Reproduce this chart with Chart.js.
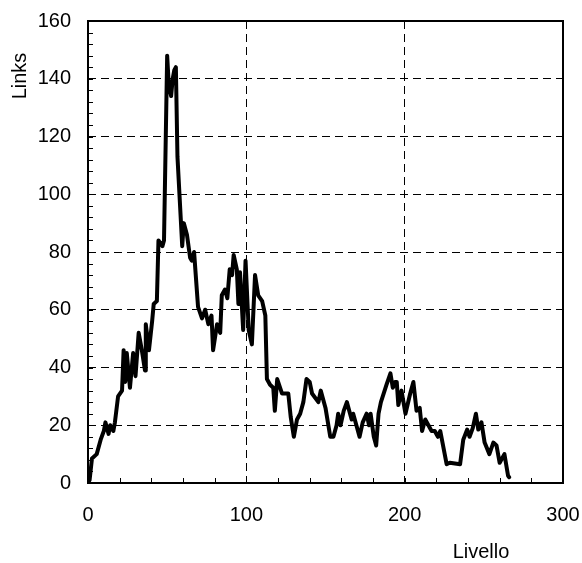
<!DOCTYPE html>
<html>
<head>
<meta charset="utf-8">
<script src="https://cdn.jsdelivr.net/npm/chart.js@4/dist/chart.umd.min.js"></script>
<style>
  html, body { margin: 0; padding: 0; background: #fff; }
  #wrap { width: 582px; height: 563px; }
</style>
</head>
<body>
<div id="wrap"><canvas id="chart" width="582" height="563"></canvas></div>
<script>
// level (x) and number of links (y)
var levels = [0, 1, 2.5, 5.5, 8, 10, 11, 13, 14, 16, 17, 19, 21.5, 22.5, 23.5, 24.5, 26.5, 28.5, 30, 32,
  34, 36, 36.5, 38.5, 40.5, 41.5, 43.5, 44.5, 47, 48, 50, 51, 52.5, 53.5, 54.5, 55.5, 56.5, 59.5, 60.5, 62.5,
  64.5, 65.5, 67, 69.5, 72, 74, 76, 78, 79, 81.5, 83.5, 84.5, 86.5, 88, 89.5, 91, 92, 94, 95, 96,
  98, 99.5, 101.5, 103.5, 105.5, 107.5, 110, 112, 113, 115, 117, 118, 119.5, 122.5, 126.5, 128, 130, 132, 134, 136,
  138, 140, 141.5, 145.5, 147, 150, 153, 155, 157, 158, 159.5, 161.5, 163.5, 166.5, 167.5, 169.5, 171.5, 173.5, 176, 177.5,
  178.5, 180.5, 182, 183.5, 185, 188.5, 191, 192.5, 194, 195, 196, 198, 200.5, 203.5, 205.5, 207.5, 209.5, 211, 213, 215,
  217, 219, 221, 222.5, 226.5, 228.5, 235, 237, 239.5, 241, 243, 245, 246.5, 248.5, 250.5, 253.5, 256, 258, 260, 263,
  265.3, 266];
var links = [0, 1, 8.5, 10, 15, 18, 21, 17, 20, 18, 21, 30, 32, 46, 35, 45, 33, 45, 37, 52,
  46, 39, 55, 46, 56, 62, 63, 84, 82, 84, 148, 138, 134, 140, 143, 144, 113, 82, 90, 86,
  78, 77, 80, 61, 57, 60, 55, 58, 46, 55, 52, 65, 67, 64, 74, 72, 79, 74, 62, 73,
  53, 77, 53, 48, 72, 65, 63, 58, 36, 34, 33, 25, 36, 31, 31, 23, 16, 22, 24, 28,
  36, 35, 31, 28, 32, 26, 16, 16, 20, 24, 20, 25, 28, 22, 24, 20, 16, 21, 24, 20,
  24, 16, 13, 24, 28, 34, 38, 33, 35, 35, 27, 32, 24, 31, 35, 25, 26, 18, 22, 20,
  18, 18, 16, 18, 6.5, 7, 6.5, 15, 18.5, 16, 19, 24, 18.5, 21, 14, 10, 14, 13, 7, 10,
  2.5, 2];

var xTicks = [0, 100, 200, 300];
var yTicks = [0, 20, 40, 60, 80, 100, 120, 140, 160];
var xTitle = 'Livello';
var yTitle = 'Links';

var points = levels.map(function (x, i) { return { x: x, y: links[i] }; });

// frame, inward minor ticks and the two axis titles
var framePlugin = {
    id: 'frame',
    afterDraw: function (chart) {
        var ctx = chart.ctx;
        var a = chart.chartArea;
        var xs = chart.scales.x, ys = chart.scales.y;
        ctx.save();
        ctx.strokeStyle = '#000';
        ctx.lineWidth = 1;
        ctx.beginPath();
        for (var v = 20; v < 300; v += 20) {
            var px = Math.round(xs.getPixelForValue(v)) + 0.5;
            ctx.moveTo(px, a.bottom);
            ctx.lineTo(px, a.bottom - 5);
        }
        for (var w = 4; w < 160; w += 4) {
            var py = Math.round(ys.getPixelForValue(w)) + 0.5;
            ctx.moveTo(a.left, py);
            ctx.lineTo(a.left + 5, py);
        }
        ctx.stroke();
        ctx.lineWidth = 2;
        ctx.strokeRect(a.left, a.top, a.right - a.left, a.bottom - a.top);

        ctx.fillStyle = '#000';
        ctx.font = '20px "Liberation Sans", Arial, sans-serif';
        ctx.textAlign = 'center';
        ctx.textBaseline = 'middle';
        ctx.fillText(xTitle, 481, 552);
        ctx.translate(20, 76);
        ctx.rotate(-Math.PI / 2);
        ctx.fillText(yTitle, 0, 0);
        ctx.restore();
    }
};

var gridColor = function (c) {
    var v = c.tick ? c.tick.value : null;
    if (c.scale.axis === 'x') return (v === 0 || v === 300) ? 'rgba(0,0,0,0)' : '#000';
    return (v === 0 || v === 160) ? 'rgba(0,0,0,0)' : '#000';
};

var chart = new Chart(document.getElementById('chart'), {
    type: 'line',
    data: {
        datasets: [{
            label: yTitle,
            data: points,
            borderColor: '#000',
            borderWidth: 4,
            borderJoinStyle: 'round',
            borderCapStyle: 'round',
            pointRadius: 0,
            fill: false,
            tension: 0
        }]
    },
    options: {
        responsive: false,
        animation: false,
        events: [],
        layout: { padding: { left: 0, right: 19, top: 21, bottom: 0 } },
        plugins: {
            legend: { display: false },
            tooltip: { enabled: false }
        },
        scales: {
            x: {
                type: 'linear',
                min: 0,
                max: 300,
                afterBuildTicks: function (s) { s.ticks = xTicks.map(function (v) { return { value: v }; }); },
                afterFit: function (s) {
                    s.height = 80;
                    s.paddingLeft = 0;
                    s.paddingRight = 0;
                },
                grid: { color: gridColor, lineWidth: 1, drawTicks: false },
                border: { display: false, dash: [8, 5] },
                ticks: {
                    color: '#000',
                    padding: 20,
                    maxRotation: 0,
                    font: { family: '"Liberation Sans", Arial, sans-serif', size: 20 }
                }
            },
            y: {
                type: 'linear',
                min: 0,
                max: 160,
                afterBuildTicks: function (s) { s.ticks = yTicks.map(function (v) { return { value: v }; }); },
                afterFit: function (s) {
                    s.width = 88;
                    s.paddingTop = 0;
                    s.paddingBottom = 0;
                },
                grid: { color: gridColor, lineWidth: 1, drawTicks: false },
                border: { display: false, dash: [8, 5] },
                ticks: {
                    color: '#000',
                    padding: 17,
                    font: { family: '"Liberation Sans", Arial, sans-serif', size: 20 }
                }
            }
        }
    },
    plugins: [framePlugin]
});
</script>
</body>
</html>
